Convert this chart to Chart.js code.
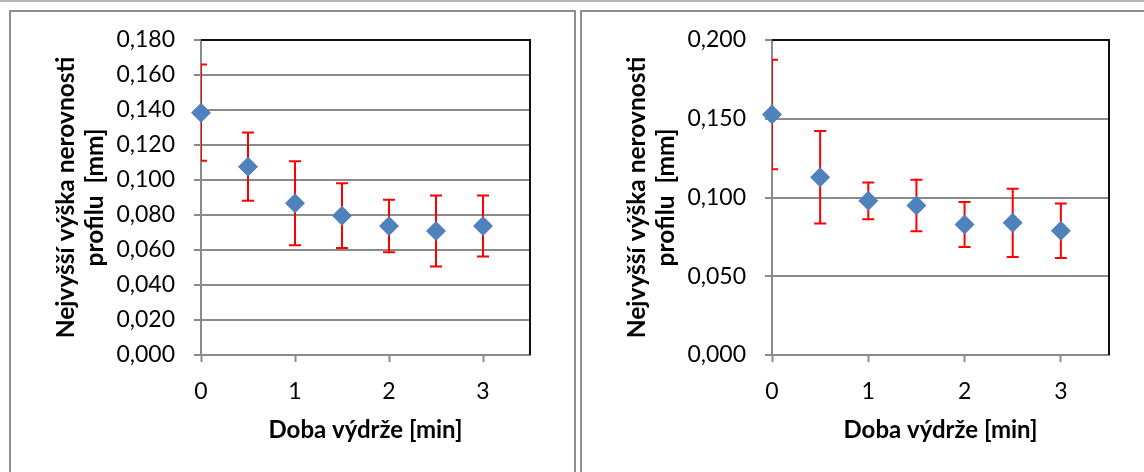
<!DOCTYPE html>
<html>
<head>
<meta charset="utf-8">
<script src="https://cdn.jsdelivr.net/npm/chart.js@4/dist/chart.umd.min.js"></script>
<style>
  body { margin: 0; width: 1144px; height: 472px; overflow: hidden; background: #fff; position: relative; }
  .topline { position: absolute; left: 0; top: 0; width: 1144px; height: 2px; background: #b4b4b4; }
  .frame { position: absolute; top: 10px; height: 480px; box-sizing: border-box; border: 2px solid #8e8e8e; }
  canvas { position: absolute; }
</style>
</head>
<body>
<div class="topline"></div>
<div class="frame" style="left:9px; width:567px;"></div>
<div class="frame" style="left:580px; width:600px;"></div>
<canvas id="chartLeft" width="563" height="460" style="left:11px; top:12px;"></canvas>
<canvas id="chartRight" width="562" height="460" style="left:582px; top:12px;"></canvas>
<script>
// Doba výdrže [min]
const timesMin = [0, 0.5, 1, 1.5, 2, 2.5, 3];
const xTicks = [0, 1, 2, 3];

// levý graf - průměr a směrodatná odchylka
const leftValues = [0.1385, 0.1076, 0.0867, 0.0796, 0.0737, 0.0709, 0.0737];
const leftErrors = [0.0275, 0.0195, 0.0240, 0.0185, 0.0150, 0.0203, 0.0174];
const leftYTicks = [0, 0.02, 0.04, 0.06, 0.08, 0.10, 0.12, 0.14, 0.16, 0.18];

// pravý graf
const rightValues = [0.1527, 0.1129, 0.0979, 0.0949, 0.0829, 0.0839, 0.0789];
const rightErrors = [0.0348, 0.0294, 0.0117, 0.0163, 0.0143, 0.0216, 0.0173];
const rightYTicks = [0, 0.05, 0.10, 0.15, 0.20];

const FONT = 'Lato';

// chybové úsečky (kreslí se pod body, ořez na plochu grafu)
const errorBars = {
    id: 'errorBars',
    beforeDatasetsDraw(chart, args, opts) {
        const { ctx, chartArea, scales } = chart;
        const pts = chart.data.datasets[0].data;
        ctx.save();
        ctx.beginPath();
        ctx.rect(chartArea.left, chartArea.top, chartArea.width, chartArea.height);
        ctx.clip();
        ctx.strokeStyle = '#ff0000';
        ctx.lineWidth = 2;
        pts.forEach((p, i) => {
            const px = scales.x.getPixelForValue(p.x);
            const top = scales.y.getPixelForValue(p.y + opts.errors[i]);
            const bot = scales.y.getPixelForValue(p.y - opts.errors[i]);
            ctx.beginPath();
            ctx.moveTo(px, top); ctx.lineTo(px, bot);
            ctx.moveTo(px - 6, top); ctx.lineTo(px + 6, top);
            ctx.moveTo(px - 6, bot); ctx.lineTo(px + 6, bot);
            ctx.stroke();
        });
        ctx.restore();
    }
};

// černý rámeček nahoře a vpravo
const plotFrame = {
    id: 'plotFrame',
    beforeDatasetsDraw(chart) {
        const { ctx, chartArea: a } = chart;
        ctx.save();
        ctx.strokeStyle = '#111';
        ctx.lineWidth = 2;
        ctx.beginPath();
        ctx.moveTo(a.left, Math.round(a.top));
        ctx.lineTo(Math.round(a.right), Math.round(a.top));
        ctx.lineTo(Math.round(a.right), a.bottom);
        ctx.stroke();
        ctx.restore();
    }
};

function makeChart(id, values, errors, yTicks, rightPad) {
    const ctx = document.getElementById(id).getContext('2d');
    const yMax = yTicks[yTicks.length - 1];

    new Chart(ctx, {
        type: 'scatter',
        data: {
            datasets: [{
                data: timesMin.map((t, i) => ({ x: t, y: values[i] })),
                pointStyle: 'rectRot',
                pointRadius: 10,
                pointBorderWidth: 0,
                backgroundColor: '#4f81bd',
                borderColor: '#4f81bd',
                clip: false
            }]
        },
        plugins: [errorBars, plotFrame],
        options: {
            responsive: false,
            animation: false,
            layout: { padding: { top: 28, right: rightPad, left: 0, bottom: 0 } },
            plugins: {
                legend: { display: false },
                tooltip: { enabled: false },
                errorBars: { errors: errors }
            },
            scales: {
                x: {
                    type: 'linear',
                    min: 0,
                    max: 3.5,
                    afterFit: (s) => { s.height = 117; },
                    afterBuildTicks: (s) => { s.ticks = xTicks.map(v => ({ value: v })); },
                    grid: { drawOnChartArea: false, tickLength: 7, tickColor: '#8a8a8a', tickWidth: 2 },
                    border: { color: '#8a8a8a', width: 2 },
                    ticks: { padding: 16, color: '#000', font: { family: FONT, size: 23 } },
                    title: {
                        display: true,
                        text: 'Doba výdrže [min]',
                        color: '#000',
                        font: { family: FONT, size: 24, weight: 'bold', lineHeight: 1.2 },
                        padding: { top: 0, bottom: 27 }
                    }
                },
                y: {
                    min: 0,
                    max: yMax,
                    // pevná šířka osy, bez dodatečného odsazení nahoře
                    afterFit: (s) => { s.width = 190; s.paddingTop = 0; s.paddingBottom = 0; },
                    afterBuildTicks: (s) => { s.ticks = yTicks.map(v => ({ value: v })); },
                    grid: { color: '#8a8a8a', lineWidth: 2, tickLength: 7, tickColor: '#8a8a8a', tickWidth: 2 },
                    border: { color: '#8a8a8a', width: 2 },
                    ticks: {
                        padding: 19,
                        color: '#000',
                        font: { family: FONT, size: 23 },
                        callback: (v) => v.toFixed(3).replace('.', ',')
                    },
                    title: {
                        display: true,
                        text: ['Nejvyšší výška nerovnosti', 'profilu  [mm]'],
                        color: '#000',
                        font: { family: FONT, size: 24.5, weight: 'bold', lineHeight: 1.18 },
                        padding: { top: 40.5, bottom: 0 }
                    }
                }
            }
        }
    });
}

makeChart('chartLeft', leftValues, leftErrors, leftYTicks, 44);
makeChart('chartRight', rightValues, rightErrors, rightYTicks, 35);
</script>
</body>
</html>
